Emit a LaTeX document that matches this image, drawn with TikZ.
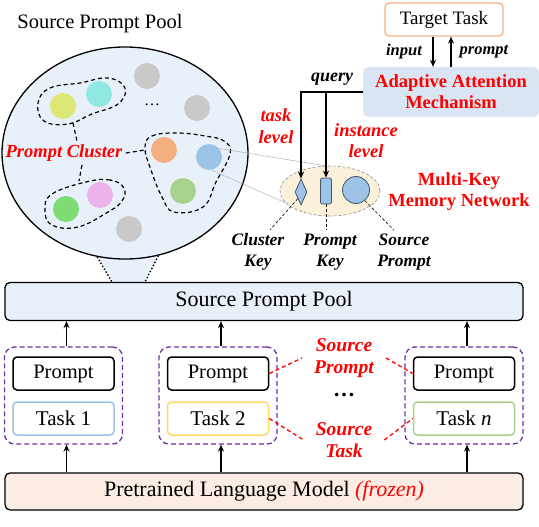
\documentclass[tikz,border=0pt]{standalone}
\usepackage{fontspec}
\setmainfont{Liberation Serif}
\usepackage{tikz}
\usetikzlibrary{arrows.meta,positioning,shapes.geometric,backgrounds}
\definecolor{poolblue}{HTML}{E8F0F9}
\definecolor{plmpeach}{HTML}{FBEDE4}
\definecolor{attnblue}{HTML}{D9E5F2}
\definecolor{memyellow}{HTML}{FBF1DA}
\definecolor{keyblue}{HTML}{9DC3E6}
\definecolor{keyedge}{HTML}{41546B}
\definecolor{purpledash}{HTML}{7030A0}
\definecolor{taskblue}{HTML}{9DC3E6}
\definecolor{taskyellow}{HTML}{FFD966}
\definecolor{taskgreen}{HTML}{A9D18E}
\definecolor{targetorange}{HTML}{F4B183}
\definecolor{dotgray}{HTML}{C9C9C9}
\definecolor{dotlime}{HTML}{DCE775}
\definecolor{dotcyan}{HTML}{8FE9E1}
\definecolor{dotorange}{HTML}{F4AE80}
\definecolor{dotblue}{HTML}{9DC3E6}
\definecolor{dotsage}{HTML}{A9D18E}
\definecolor{dotpink}{HTML}{EDB1EB}
\definecolor{dotgreen}{HTML}{7EDC73}
\tikzset{bar/.style={draw=black,line width=1.3pt,rounded corners=5pt,minimum width=518pt,minimum height=38pt,font=\fontsize{22}{26}\selectfont},groupbox/.style={draw=purpledash,dash pattern=on 5pt off 3pt,line width=1.3pt,rounded corners=10pt,minimum width=118pt,minimum height=97pt},promptbox/.style={draw=black,line width=1.5pt,rounded corners=4pt,fill=white,minimum width=101pt,minimum height=33pt,font=\fontsize{20.5}{24}\selectfont},taskbox/.style={line width=1.5pt,rounded corners=4pt,fill=white,minimum width=101pt,minimum height=33pt,font=\fontsize{21}{24}\selectfont},arr/.style={-{Stealth[length=7pt,width=6pt]},line width=1.3pt},redlbl/.style={text=red,font=\fontsize{19.5}{22.5}\selectfont\bfseries\itshape,align=center},keylbl/.style={font=\fontsize{17.5}{21}\selectfont\bfseries\itshape,align=center},ball/.style={circle,minimum size=26pt,inner sep=0pt},keyshape/.style={draw=keyedge,fill=keyblue,line width=0.8pt,inner sep=0pt},cluster/.style={dash pattern=on 4pt off 3pt,line width=1.2pt},pointer/.style={dash pattern=on 3pt off 2pt,line width=0.6pt},redpointer/.style={red,dash pattern=on 4pt off 3pt,line width=1.3pt},zoomline/.style={black!30,line width=0.5pt}}
\begin{document}
\begin{tikzpicture}[x=1pt,y=-1pt]
\useasboundingbox (0,0) rectangle (539,527);
\node[bar,fill=poolblue] (pool) at (264,301.5) {Source Prompt Pool};
\node[bar,fill=plmpeach,minimum height=37pt] (plm) at (264,491.5) {Pretrained Language Model \textcolor{red}{\itshape(frozen)}};
\foreach \i/\x/\col/\t in {1/63.5/taskblue/Task 1,2/218/taskyellow/Task 2,3/464/taskgreen/Task \textit{n}}{
\node[groupbox] (grp\i) at (\x,395.5) {};
\node[promptbox] (prm\i) at (\x,373.5) {Prompt};
\node[taskbox,draw=\col] (tsk\i) at (\x,418.5) {\t};
\draw[arr] ([xshift=3pt]grp\i.north) -- ([xshift=3pt]grp\i.north |- pool.south);
\draw[arr] ([xshift=3pt]plm.north -| grp\i.south) -- ([xshift=3pt]grp\i.south);
}
\node[redlbl,inner xsep=12pt] (srcp) at (344,358) {Source\\Prompt};
\node[font=\fontsize{22}{24}\selectfont\bfseries] (gap) at (344,395) {\dots};
\node[redlbl,inner xsep=12pt] (srct) at (344,440) {Source\\Task};
\draw[redpointer] (prm2.east) -- (srcp.west);
\draw[redpointer] (srcp.east) -- (prm3.west);
\draw[redpointer] (tsk2.east) -- (srct.west);
\draw[redpointer] (srct.east) -- (tsk3.west);
\node[font=\fontsize{20.5}{24}\selectfont] (title) at (100,24) {Source Prompt Pool};
\node[ellipse,draw,line width=1.3pt,fill=poolblue,minimum width=246pt,minimum height=212pt] (bubble) at (125,153) {};
\coordinate (tailL) at (112,282);
\coordinate (tailR) at (145,282);
\begin{scope}[on background layer]
\fill[poolblue] (bubble.255) -- (tailL) -- (tailR) -- (bubble.288) -- cycle;
\end{scope}
\draw[dotted,line width=1.4pt] (bubble.255) -- (tailL);
\draw[dotted,line width=1.4pt] (bubble.288) -- (tailR);
\draw[cluster] plot[smooth cycle,tension=0.7] coordinates {(38,103) (50,88) (80,83) (108,78) (125,88) (118,104) (92,114) (68,124) (44,121)};
\draw[cluster] plot[smooth cycle,tension=0.7] coordinates {(145,148) (152,136) (177,133) (205,136) (224,141) (230,154) (216,182) (203,207) (174,212) (162,197) (151,170)};
\draw[cluster] plot[smooth cycle,tension=0.7] coordinates {(124,188) (110,180) (86,182) (52,194) (45,210) (52,225) (78,227) (108,212) (122,201)};
\node[ball,fill=dotgray] (pg1) at (147,76) {};
\node[ball,fill=dotgray] (pg2) at (197,108) {};
\node[ball,fill=dotgray] (pg3) at (129,229) {};
\node[ball,fill=dotlime] (plime) at (63,106) {};
\node[ball,fill=dotcyan] (pcyan) at (99,94) {};
\node[ball,fill=dotorange] (porange) at (164,150) {};
\node[ball,fill=dotblue] (pblue) at (209,157) {};
\node[ball,fill=dotsage] (psage) at (183,191) {};
\node[ball,fill=dotpink] (ppink) at (100,195) {};
\node[ball,fill=dotgreen] (pgreen) at (66,209) {};
\node[font=\fontsize{16}{20}\selectfont] (pdots) at (152,105) {\dots};
\node[redlbl,font=\fontsize{18.5}{22}\selectfont\bfseries\itshape] (pclbl) at (64,153) {Prompt Cluster};
\coordinate (c1foot) at (73,123);
\coordinate (c3side) at (145,150);
\coordinate (c2head) at (79,181);
\draw[cluster] (c1foot) -- ([xshift=13pt]pclbl.north);
\draw[cluster] (pclbl.east) -- (c3side);
\draw[cluster] ([xshift=18pt]pclbl.south) -- (c2head);
\node[draw=targetorange,line width=1.3pt,rounded corners=4pt,minimum width=118pt,minimum height=33pt,font=\fontsize{19}{22}\selectfont] (target) at (444,19.5) {Target Task};
\node[fill=attnblue,rounded corners=6pt,minimum width=176pt,minimum height=50pt,text=red,font=\fontsize{18.5}{21}\selectfont\bfseries,align=center] (attn) at (451,92) {Adaptive Attention\\Mechanism};
\draw[arr] ([xshift=-11pt]target.south) -- ([xshift=-11pt]target.south |- attn.north);
\draw[arr] ([xshift=7pt]target.south |- attn.north) -- ([xshift=7pt]target.south);
\node[keylbl,font=\fontsize{16.5}{20}\selectfont\bfseries\itshape] (inlbl) at (404,52) {input};
\node[keylbl,font=\fontsize{16.5}{20}\selectfont\bfseries\itshape] (prlbl) at (484,52) {prompt};
\node[ellipse,draw=black!45,dash pattern=on 3pt off 2pt,line width=0.6pt,fill=memyellow,minimum width=100pt,minimum height=50pt] (mkn) at (330,191) {};
\node[keyshape,diamond,minimum width=12pt,minimum height=26pt] (ckey) at (301,192) {};
\node[keyshape,rectangle,rounded corners=2pt,minimum width=11pt,minimum height=26pt] (pkey) at (326,191) {};
\node[keyshape,circle,minimum size=27pt] (skey) at (356,190) {};
\node[text=red,font=\fontsize{18.5}{21}\selectfont\bfseries,align=center] (mknlbl) at (459,192) {Multi-Key\\Memory Network};
\draw[zoomline] (pblue.40) -- (mkn.100);
\draw[zoomline] (pblue.-80) -- (mkn.195);
\draw[arr] (attn.west) -| (ckey.north);
\draw[arr] (attn.west -| pkey.north) -- (pkey.north);
\node[keylbl,font=\fontsize{18}{21}\selectfont\bfseries\itshape] (qlbl) at (332,79) {query};
\node[redlbl,font=\fontsize{18.5}{22.5}\selectfont\bfseries\itshape] (tlvl) at (276,126) {task\\level};
\node[redlbl,font=\fontsize{18.5}{21}\selectfont\bfseries\itshape] (ilvl) at (366,141) {instance\\level};
\node[keylbl] (ckeylbl) at (258,252) {Cluster\\Key};
\node[keylbl] (pkeylbl) at (330,252) {Prompt\\Key};
\node[keylbl] (skeylbl) at (404,252) {Source\\Prompt};
\draw[pointer] (ckey.south west) -- ([xshift=12pt]ckeylbl.north);
\draw[pointer] (pkey.south) -- (pkey.south |- pkeylbl.north);
\draw[pointer] (skey.-50) -- ([xshift=-10pt]skeylbl.north);
\end{tikzpicture}
\end{document}
